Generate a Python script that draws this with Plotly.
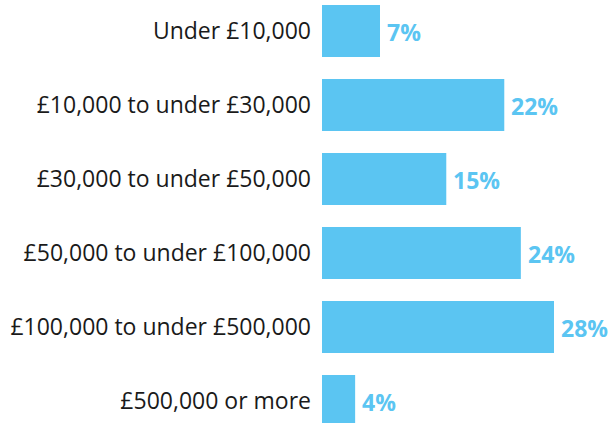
import plotly.graph_objects as go

categories = ["Under £10,000", "£10,000 to under £30,000", "£30,000 to under £50,000",
              "£50,000 to under £100,000", "£100,000 to under £500,000", "£500,000 or more"]
values = [7, 22, 15, 24, 28, 4]
labels = ["7%", "22%", "15%", "24%", "28%", "4%"]

color = "#5BC5F2"

fig = go.Figure(go.Bar(
    x=values, y=categories, orientation="h",
    marker=dict(color=color, line=dict(width=0)),
    hoverinfo="skip",
))

for c, v, t in zip(categories, values, labels):
    fig.add_annotation(x=v, y=c, text=t, showarrow=False, xanchor="left",
                       xshift=5, yshift=-1,
                       font=dict(family="Open Sans", size=23, color=color, weight="bold"))

fig.update_layout(
    width=611, height=423,
    margin=dict(l=322, r=0, t=0, b=0, autoexpand=False),
    paper_bgcolor="white", plot_bgcolor="white",
    bargap=0.297,
    showlegend=False,
    font=dict(family="Open Sans", size=23, color="#1a1a1a"),
)
fig.update_xaxes(range=[0, 34.88], visible=False)
fig.update_yaxes(range=[5.297, -0.419], showgrid=False, zeroline=False, showline=False,
                 ticks="", ticklabelstandoff=10, automargin=False,
                 tickfont=dict(family="Open Sans", size=23, color="#1a1a1a"))

fig.write_html("out.html", config={"displayModeBar": False},
               post_script="document.body.style.margin='0';document.body.style.overflow='hidden';")
